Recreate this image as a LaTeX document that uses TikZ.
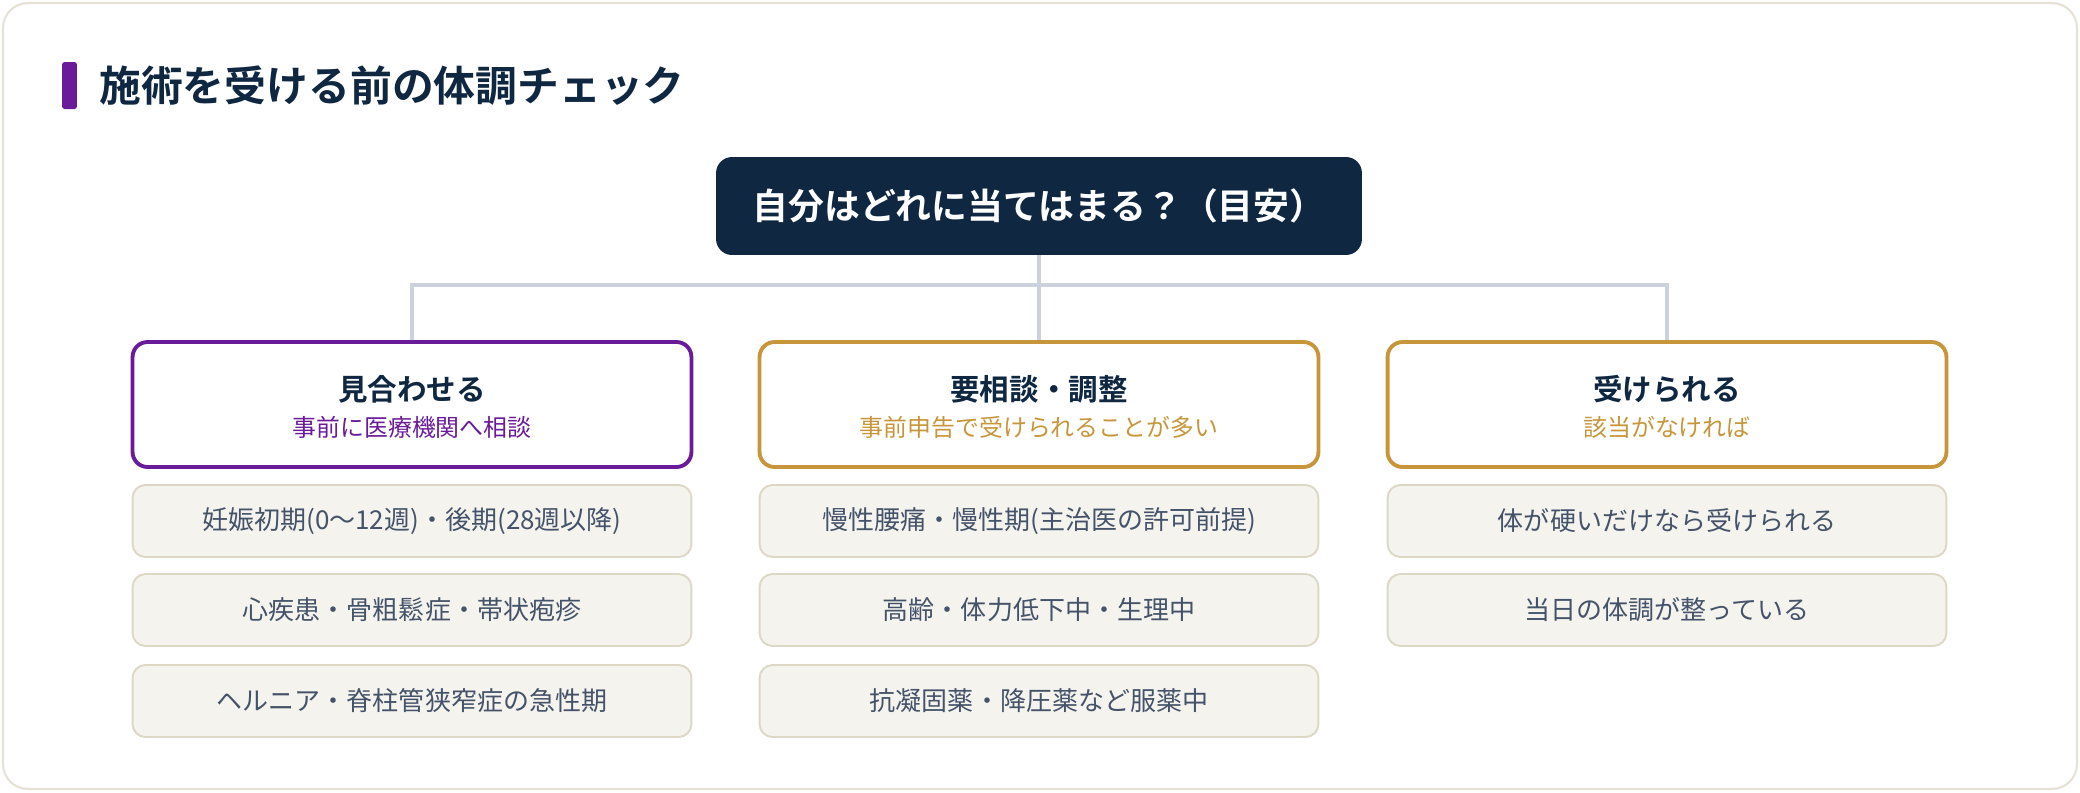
\documentclass[tikz,border=0pt]{standalone}
\usepackage{fontspec}
\setmainfont{Noto Sans CJK JP}[BoldFont={Noto Sans CJK JP Bold}]
\usetikzlibrary{positioning}
\definecolor{navy}{HTML}{0F2740}
\definecolor{violet}{HTML}{6A1B9A}
\definecolor{ochre}{HTML}{C8963A}
\definecolor{linkgray}{HTML}{CBD2DC}
\definecolor{cardline}{HTML}{E6E3D6}
\definecolor{itemfill}{HTML}{F5F3EE}
\definecolor{itemline}{HTML}{DDD8C6}
\definecolor{itemtext}{HTML}{445369}
\begin{document}
\begin{tikzpicture}[x=0.02cm,y=-0.02cm,
  card/.style={draw=cardline,line width=1.2pt,fill=white,rounded corners=0.5cm},
  bar/.style={fill=violet,rounded corners=1.5pt,minimum width=0.3cm,minimum height=0.94cm,inner sep=0},
  root/.style={fill=navy,text=white,rounded corners=0.32cm,minimum width=12.92cm,minimum height=1.96cm,font=\fontsize{20.4}{24}\selectfont\bfseries},
  link/.style={draw=linkgray,line width=2.3pt},
  catbox/.style={draw=#1,line width=2.2pt,fill=white,rounded corners=0.3cm,minimum width=11.18cm,minimum height=2.5cm},
  cattitle/.style={text=navy,font=\fontsize{16.8}{20}\selectfont\bfseries},
  catsub/.style={text=#1,font=\fontsize{13.6}{16}\selectfont},
  itembox/.style={draw=itemline,line width=1.1pt,fill=itemfill,rounded corners=0.26cm,minimum width=11.18cm,minimum height=1.44cm,text=itemtext,font=\fontsize{14.8}{18}\selectfont}]
\useasboundingbox (0,0) rectangle (2080,792);
\draw[card] (3,3) rectangle (2077,789);
% title
\node[bar] (mark) at (69.5,85.5) {};
\node[anchor=west,inner sep=0,text=navy,font=\fontsize{23.8}{28}\selectfont\bfseries] (title) at (99,86) {施術を受ける前の体調チェック};
% question
\node[root] (q) at (1039,206) {自分はどれに当てはまる？（目安）};
% categories
\node[catbox=violet] (cat1) at (412,404.5) {};
\node[catbox=ochre] (cat2) at (1039,404.5) {};
\node[catbox=ochre] (cat3) at (1667,404.5) {};
\node[cattitle] (t1) at (412,389) {見合わせる};
\node[catsub=violet] (s1) at (412,427) {事前に医療機関へ相談};
\node[cattitle] (t2) at (1039,389) {要相談・調整};
\node[catsub=ochre] (s2) at (1039,427) {事前申告で受けられることが多い};
\node[cattitle] (t3) at (1667,389) {受けられる};
\node[catsub=ochre] (s3) at (1667,427) {該当がなければ};
% links
\coordinate (hub) at (1039,285);
\draw[link] (q.south) -- (hub);
\draw[link] (cat1.north) |- (hub) -| (cat3.north);
\draw[link] (hub) -- (cat2.north);
% items
\foreach \n/\y/\txt in {1/521/妊娠初期(0〜12週)・後期(28週以降),2/610/心疾患・骨粗鬆症・帯状疱疹,3/701/ヘルニア・脊柱管狭窄症の急性期}
  \node[itembox] (a\n) at (412,\y) {\txt};
\foreach \n/\y/\txt in {1/521/慢性腰痛・慢性期(主治医の許可前提),2/610/高齢・体力低下中・生理中,3/701/抗凝固薬・降圧薬など服薬中}
  \node[itembox] (b\n) at (1039,\y) {\txt};
\foreach \n/\y/\txt in {1/521/体が硬いだけなら受けられる,2/610/当日の体調が整っている}
  \node[itembox] (c\n) at (1667,\y) {\txt};
\end{tikzpicture}
\end{document}
